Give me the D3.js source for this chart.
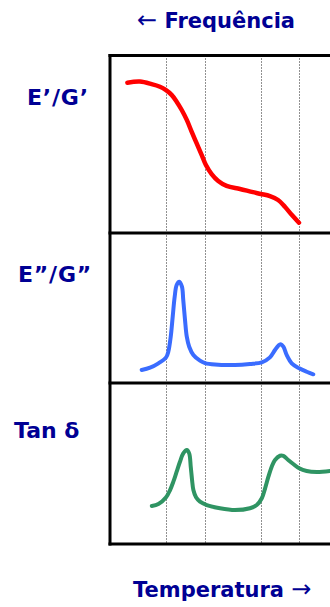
<!DOCTYPE html>
<html>
<head>
<meta charset="utf-8">
<script src="https://cdn.jsdelivr.net/npm/d3@7"></script>
<style>
  html, body { margin: 0; padding: 0; background: #fff; }
  svg { display: block; }
</style>
</head>
<body>
<svg id="chart" width="330" height="607"></svg>
<script>
// temperature (0-100) and response (0-100 within each panel)
var storageT = [7.9, 13.6, 18.9, 22.7, 25.3, 28, 30.3, 32.6, 34.9, 37.1, 39.4, 41.7, 43.6, 46.2, 49.2, 53, 59.1, 65, 68.6, 72.7, 76.4, 79.5, 82.7, 85.9];
var storageV = [84.7, 85.3, 83.9, 82.4, 80.6, 77.8, 74, 69.3, 63.7, 57.1, 50.5, 43.9, 38.3, 33.2, 29.3, 26.5, 24.8, 23, 22, 20.8, 18.6, 14.8, 10.1, 5.8];

var lossT = [14.4, 18.2, 22, 25.5, 26.5, 27.6, 28.5, 29.4, 30.3, 31.5, 32.7, 33.3, 34.1, 34.9, 36, 37.9, 40.9, 43.2, 47.7, 56.8, 63.6, 69, 72.7, 75, 76.5, 77.6, 78.8, 80.3, 82.6, 86, 89.4, 92.4];
var lossV = [8.7, 10.2, 13.1, 17.1, 20.9, 30.9, 44.2, 57.5, 65.3, 67.5, 64.2, 55.3, 42, 30.9, 24.2, 18.7, 14.9, 13.3, 12.3, 12, 12.7, 13.8, 17.1, 22, 24.9, 25.8, 24.2, 18.7, 13.1, 9.8, 7.5, 5.8];

var tanT = [19, 22, 25.5, 27.3, 28.8, 30.3, 31.8, 33.3, 34.9, 36, 36.7, 37.3, 37.9, 39.1, 40.9, 44, 50, 56.8, 63.6, 66.7, 69, 70.5, 72, 73.5, 75, 77.3, 78.8, 81, 83.3, 86, 89.4, 94, 100];
var tanV = [23.6, 24.8, 29, 33.5, 38.7, 44.9, 51.1, 56.3, 58.4, 56.3, 48, 39.8, 33.5, 29, 26.3, 24.2, 22.2, 21.1, 22.2, 24.2, 28.4, 34.6, 41.8, 48, 52.2, 54.8, 54.7, 52.2, 49.7, 47, 45.3, 44.7, 45.3];

var transitions = [25.3, 43.3, 68.8, 85.9];

var panelLabels = ["E\u2019/G\u2019", "E\u201D/G\u201D", "Tan \u03B4"];

var svg = d3.select("#chart"),
    left = 110,
    right = 330,
    rows = [55.5, 233, 383, 544],
    navy = "#000094",
    font = "'DejaVu Sans', Verdana, sans-serif";

var x = d3.scaleLinear().domain([0, 100]).range([left, right]);

// dotted transition lines
svg.selectAll(".trans")
    .data(transitions)
    .enter().append("line")
    .attr("class", "trans")
    .attr("x1", function (d) { return Math.round(x(d)) + 0.5; })
    .attr("x2", function (d) { return Math.round(x(d)) + 0.5; })
    .attr("y1", rows[0])
    .attr("y2", rows[3])
    .attr("stroke", "#222")
    .attr("stroke-width", 1)
    .attr("stroke-dasharray", "1,2");

// frame
svg.selectAll(".hline")
    .data(rows)
    .enter().append("line")
    .attr("class", "hline")
    .attr("x1", left - 1.5)
    .attr("x2", right)
    .attr("y1", function (d) { return d; })
    .attr("y2", function (d) { return d; })
    .attr("stroke", "#000")
    .attr("stroke-width", 3);

svg.append("line")
    .attr("x1", left).attr("x2", left)
    .attr("y1", rows[0] - 1.5).attr("y2", rows[3] + 1.5)
    .attr("stroke", "#000")
    .attr("stroke-width", 3);

var series = [
    { t: storageT, v: storageV, color: "#ff0000", width: 4.5 },
    { t: lossT, v: lossV, color: "#3a6cff", width: 4 },
    { t: tanT, v: tanV, color: "#2f9463", width: 4 }
];

series.forEach(function (s, i) {
    var y = d3.scaleLinear().domain([0, 100]).range([rows[i + 1], rows[i]]);
    var pts = s.t.map(function (t, j) { return [t, s.v[j]]; });
    var line = d3.line()
        .x(function (d) { return x(d[0]); })
        .y(function (d) { return y(d[1]); })
        .curve(d3.curveCatmullRom.alpha(0.5));
    svg.append("path")
        .attr("d", line(pts))
        .attr("fill", "none")
        .attr("stroke", s.color)
        .attr("stroke-width", s.width)
        .attr("stroke-linecap", "round")
        .attr("stroke-linejoin", "round");
});

// panel labels
var labelPos = [[27, 104.5], [18, 281.7], [14, 438.3]];
svg.selectAll(".plabel")
    .data(panelLabels)
    .enter().append("text")
    .attr("class", "plabel")
    .attr("x", function (d, i) { return labelPos[i][0]; })
    .attr("y", function (d, i) { return labelPos[i][1]; })
    .attr("font-family", font)
    .attr("font-weight", "bold")
    .attr("font-size", "22px")
    .attr("letter-spacing", function (d, i) { return i < 2 ? "0.8px" : null; })
    .attr("fill", navy)
    .text(function (d) { return d; });

// axis titles
var freqTitle = svg.append("text")
    .attr("x", 137).attr("y", 28.3)
    .attr("font-family", font)
    .attr("font-size", "21px")
    .attr("fill", navy);
freqTitle.append("tspan").attr("font-weight", "normal").attr("font-size", "24px").text("\u2190");
freqTitle.append("tspan").attr("font-weight", "bold").text(" Frequ\u00EAncia");

var tempTitle = svg.append("text")
    .attr("x", 133).attr("y", 596.7)
    .attr("font-family", font)
    .attr("font-size", "21px")
    .attr("fill", navy);
tempTitle.append("tspan").attr("font-weight", "bold").text("Temperatura ");
tempTitle.append("tspan").attr("font-weight", "normal").attr("font-size", "24px").text("\u2192");
</script>
</body>
</html>
